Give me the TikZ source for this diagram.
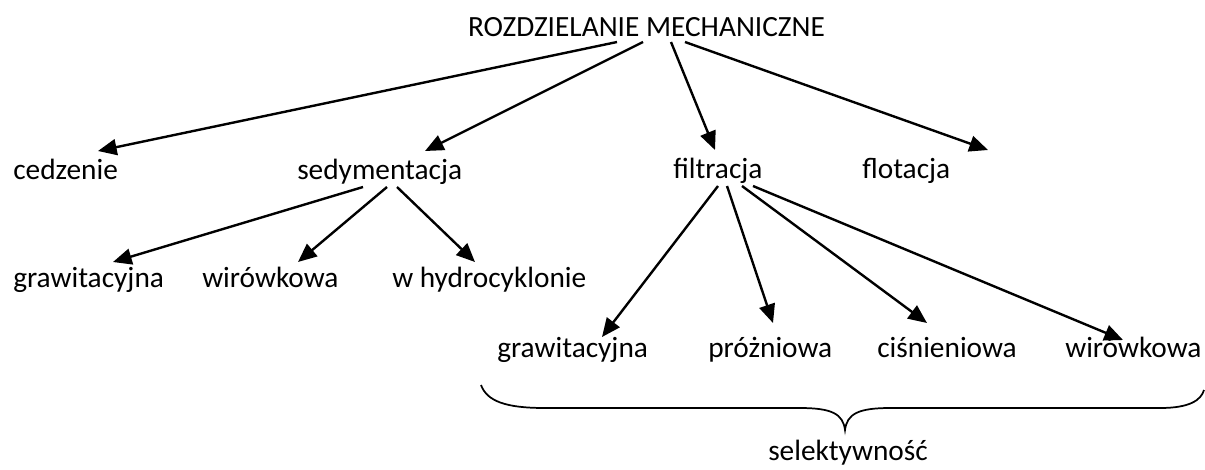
\documentclass[tikz,border=0pt]{standalone}
\usepackage{fontspec}
\setmainfont{Carlito}
\usetikzlibrary{arrows.meta}
\begin{document}
\begin{tikzpicture}[x=0.75pt,y=-0.75pt,
  lbl/.style={inner sep=0pt,anchor=base west,font=\fontsize{22}{26}\selectfont},
  arr/.style={line width=1.8pt,-{Triangle[length=14pt,width=12pt]}},
  bracepath/.style={line width=1.3pt}]
\useasboundingbox (0,0) rectangle (1205,469);
% nodes
\node[lbl,anchor=base] (title) at (646.5,36) {ROZDZIELANIE MECHANICZNE};
\node[lbl] (ced) at (13,179) {cedzenie};
\node[lbl] (sed) at (297,179) {sedymentacja};
\node[lbl] (fil) at (673,178) {filtracja};
\node[lbl] (flo) at (862,178) {flotacja};
\node[lbl] (sgr) at (13,287) {grawitacyjna};
\node[lbl] (swi) at (202,287) {wirówkowa};
\node[lbl] (shy) at (392,287) {w hydrocyklonie};
\node[lbl] (fgr) at (497,357) {grawitacyjna};
\node[lbl] (fpr) at (708,357) {próżniowa};
\node[lbl] (fci) at (877,357) {ciśnieniowa};
\node[lbl] (fwi) at (1065,357) {wirówkowa};
\node[lbl] (sel) at (768,460) {selektywność};
% connector end points
\coordinate (t1) at (617,42); \coordinate (t2) at (643,42);
\coordinate (t3) at (671,42); \coordinate (t4) at (685,42);
\coordinate (ced-in) at (98,151); \coordinate (sed-in) at (425,151);
\coordinate (fil-in) at (715,150); \coordinate (flo-in) at (988,150);
\coordinate (s1) at (363,187); \coordinate (s2) at (387,187); \coordinate (s3) at (397,187);
\coordinate (sgr-in) at (113,262); \coordinate (swi-in) at (298,262); \coordinate (shy-in) at (475,262);
\coordinate (f1) at (718,186); \coordinate (f2) at (727,186);
\coordinate (f3) at (742,186); \coordinate (f4) at (753,186);
\coordinate (fgr-in) at (602,337); \coordinate (fpr-in) at (773,323);
\coordinate (fci-in) at (927,323); \coordinate (fwi-in) at (1123,340);
% arrows
\draw[arr] (t1) -- (ced-in);
\draw[arr] (t2) -- (sed-in);
\draw[arr] (t3) -- (fil-in);
\draw[arr] (t4) -- (flo-in);
\draw[arr] (s1) -- (sgr-in);
\draw[arr] (s2) -- (swi-in);
\draw[arr] (s3) -- (shy-in);
\draw[arr] (f1) -- (fgr-in);
\draw[arr] (f2) -- (fpr-in);
\draw[arr] (f3) -- (fci-in);
\draw[arr] (f4) -- (fwi-in);
% brace
\draw[bracepath] (481,385) .. controls (487,401) and (505,408) .. (545,408)
  -- (800,408) .. controls (832,408) and (843,414) .. (845,430)
  .. controls (847,414) and (858,408) .. (890,408)
  -- (1160,408) .. controls (1190,408) and (1201,400) .. (1204,390);
\end{tikzpicture}
\end{document}
